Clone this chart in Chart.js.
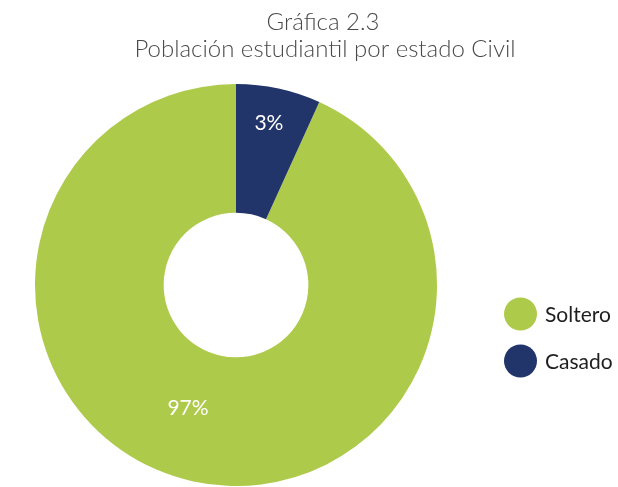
<!DOCTYPE html>
<html>
<head>
<meta charset="utf-8">
<script src="https://cdn.jsdelivr.net/npm/chart.js@4/dist/chart.umd.min.js"></script>
<style>
    html, body { margin: 0; padding: 0; background: #fff; }
    #wrap { width: 618px; height: 487px; }
</style>
</head>
<body>
<div id="wrap"><canvas id="myChart"></canvas></div>
<script>
const titleLines = ['Gráfica 2.3', 'Población estudiantil por estado Civil'];
const categories = ['Soltero', 'Casado'];
const shares = [93.2, 6.8];
const shareLabels = ['97%', '3%'];
const colors = ['#aeca4a', '#22356a'];

// where the percentage sits inside each slice (fraction of angle, fraction of ring depth)
const labelSpot = [[0.527, 0.465], [0.47, 0.72]];

const ctx = document.getElementById('myChart');

const decorPlugin = {
    id: 'decor',
    afterDatasetsDraw(chart) {
        const c = chart.ctx;
        c.save();

        // slice labels
        const arcs = chart.getDatasetMeta(0).data;
        c.fillStyle = '#ffffff';
        c.font = '400 21px Lato';
        c.textAlign = 'center';
        c.textBaseline = 'middle';
        arcs.forEach(function (arc, i) {
            const p = arc.getProps(['x', 'y', 'startAngle', 'endAngle', 'innerRadius', 'outerRadius']);
            const a = p.startAngle + (p.endAngle - p.startAngle) * labelSpot[i][0];
            const r = p.innerRadius + (p.outerRadius - p.innerRadius) * labelSpot[i][1];
            c.fillText(shareLabels[i], p.x + Math.cos(a) * r, p.y + Math.sin(a) * r);
        });

        // title
        c.fillStyle = '#4a4a4a';
        c.font = '300 24px Lato';
        c.textBaseline = 'alphabetic';
        c.fillText(titleLines[0], 323, 30);
        c.fillText(titleLines[1], 325, 57);

        // legend
        c.textAlign = 'left';
        c.textBaseline = 'middle';
        c.font = '400 21px Lato';
        categories.forEach(function (name, i) {
            const y = 314 + i * 47;
            c.fillStyle = colors[i];
            c.beginPath();
            c.arc(520.5, y, 16.5, 0, Math.PI * 2);
            c.fill();
            c.fillStyle = '#1e1e1e';
            c.fillText(name, 545, y + 1);
        });
        c.restore();
    }
};

new Chart(ctx, {
    type: 'doughnut',
    data: {
        labels: categories,
        datasets: [{
            data: shares,
            backgroundColor: colors,
            borderWidth: 0
        }]
    },
    options: {
        responsive: true,
        maintainAspectRatio: false,
        animation: false,
        rotation: shares[1] / 100 * 360,
        cutout: '36%',
        layout: {
            padding: { top: 84, right: 146, bottom: 1, left: 0 }
        },
        plugins: {
            legend: { display: false },
            title: { display: false },
            tooltip: { enabled: false }
        }
    },
    plugins: [decorPlugin]
});
</script>
</body>
</html>
